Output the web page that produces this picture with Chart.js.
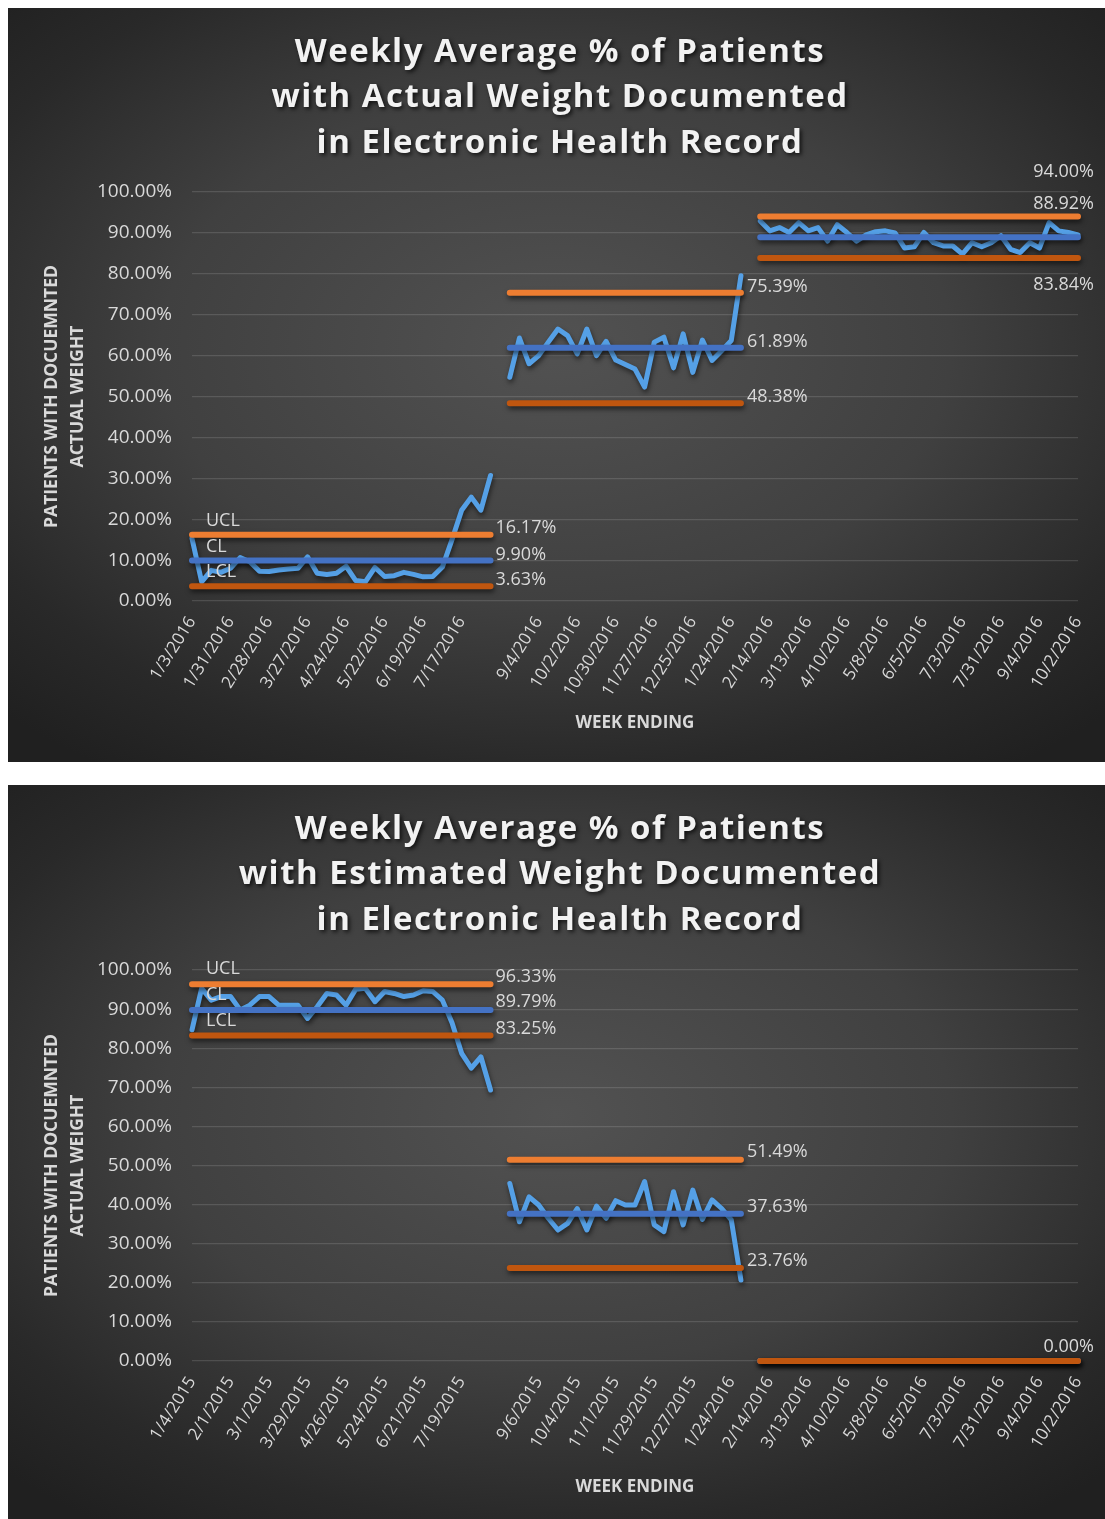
<!DOCTYPE html>
<html><head><meta charset="utf-8">
<script src="https://cdn.jsdelivr.net/npm/chart.js@4.4.1/dist/chart.umd.min.js"></script>
<style>
html,body{margin:0;padding:0;background:#fff;}
.panel{position:absolute;left:8px;width:1097px;background:radial-gradient(ellipse 72% 68% at 50% 45%, #525252 0%, #404040 50%, #292929 82%, #202020 100%);}
#p1{top:8px;height:754px;}
#p2{top:785px;height:734px;}
canvas{display:block;}
</style></head><body>
<div class="panel" id="p1"><canvas id="c1" width="1097" height="754"></canvas></div>
<div class="panel" id="p2"><canvas id="c2" width="1097" height="734"></canvas></div>
<script>
// ---- data ----
const segStart = [0, 33, 59];
const segLen = [32, 25, 34];
const nCats = 93;

const actualTickLabels = ['1/3/2016','1/31/2016','2/28/2016','3/27/2016','4/24/2016','5/22/2016','6/19/2016','7/17/2016','','9/4/2016','10/2/2016','10/30/2016','11/27/2016','12/25/2016','1/24/2016','2/14/2016','3/13/2016','4/10/2016','5/8/2016','6/5/2016','7/3/2016','7/31/2016','9/4/2016','10/2/2016'];
const estTickLabels = ['1/4/2015','2/1/2015','3/1/2015','3/29/2015','4/26/2015','5/24/2015','6/21/2015','7/19/2015','','9/6/2015','10/4/2015','11/1/2015','11/29/2015','12/27/2015','1/24/2016','2/14/2016','3/13/2016','4/10/2016','5/8/2016','6/5/2016','7/3/2016','7/31/2016','9/4/2016','10/2/2016'];

const actualSeg1 = [15.3,4.7,7.5,7.0,8.0,10.6,9.6,7.3,7.2,7.6,7.8,8.0,10.8,6.8,6.5,6.8,8.5,5.0,4.7,8.2,6.0,6.2,7.0,6.5,5.9,6.0,8.3,15.0,22.2,25.4,22.2,30.7];
const actualSeg2 = [54.7,64.3,58.0,60.0,63.3,66.5,64.9,60.4,66.5,60.0,63.5,58.9,57.8,56.7,52.3,63.3,64.5,57.0,65.3,55.9,63.8,58.8,61.2,63.7,79.5];
const actualSeg3 = [92.9,90.5,91.3,90.1,92.5,90.5,91.3,88.0,92.0,90.1,88.0,89.5,90.3,90.5,90.0,86.3,86.6,90.1,87.6,86.8,86.8,84.8,87.6,86.6,87.6,89.3,86.0,85.2,87.6,86.3,92.5,90.5,90.1,89.5];
const actualUCL = [16.17, 75.39, 94.00];
const actualCL  = [9.90, 61.89, 88.92];
const actualLCL = [3.63, 48.38, 83.84];

const estSeg1 = [84.7,95.3,92.3,93.2,93.2,89.8,91.0,93.2,93.2,91.0,91.0,91.0,87.6,90.6,94.0,93.6,91.0,95.1,95.3,91.9,94.5,94.0,93.2,93.6,94.7,94.5,92.3,86.5,78.7,74.9,77.8,69.3];
const estSeg2 = [45.4,35.6,42.0,39.9,36.5,33.5,35.2,39.0,33.5,39.6,36.5,41.0,39.9,39.9,45.9,34.8,33.1,43.3,34.8,43.7,36.2,41.2,39.0,36.1,20.7];
const estSeg3 = [];
const estUCL = [96.33, 51.49, 0.00];
const estCL  = [89.79, 37.63, 0.00];
const estLCL = [83.25, 23.76, 0.00];

// ---- helpers ----
function buildLabels(ticks){
  const out = [];
  for (let i = 0; i < nCats; i++) out.push(i % 4 === 0 ? (ticks[i/4] || '') : '');
  return out;
}
function buildSeries(segs){
  const out = new Array(nCats).fill(null);
  segs.forEach((vals, s) => vals.forEach((v, k) => { out[segStart[s] + k] = v; }));
  return out;
}
function buildLimit(lims){
  const out = new Array(nCats).fill(null);
  lims.forEach((v, s) => { for (let k = 0; k < segLen[s]; k++) out[segStart[s] + k] = v; });
  return out;
}

const TXT = '#d9d9d9';
const FONT = 'Open Sans';

const titlePlugin = {
  id: 'bigTitle',
  afterDraw(chart, args, opts){
    const ctx = chart.ctx;
    ctx.save();
    ctx.font = 'bold 33px "Open Sans"';
    try { ctx.letterSpacing = '1.5px'; } catch(e) {}
    ctx.fillStyle = '#f2f2f2';
    ctx.textAlign = 'center';
    ctx.textBaseline = 'middle';
    ctx.shadowColor = 'rgba(0,0,0,0.75)';
    ctx.shadowBlur = 4;
    ctx.shadowOffsetX = 2;
    ctx.shadowOffsetY = 2;
    opts.lines.forEach((t, i) => ctx.fillText(t, opts.cx, opts.y0 + i * opts.lh));
    ctx.restore();
  }
};

const shadowPlugin = {
  id: 'lineShadow',
  beforeDatasetDraw(chart){
    const ctx = chart.ctx;
    ctx.save();
    ctx.shadowColor = 'rgba(0,0,0,0.55)';
    ctx.shadowBlur = 5;
    ctx.shadowOffsetX = 1;
    ctx.shadowOffsetY = 3;
  },
  afterDatasetDraw(chart){ chart.ctx.restore(); }
};

const labelPlugin = {
  id: 'ctlLabels',
  afterDatasetsDraw(chart, args, opts){
    const ctx = chart.ctx;
    const xs = chart.scales.x, ys = chart.scales.y;
    ctx.save();
    ctx.font = '18px "Open Sans"';
    ctx.fillStyle = TXT;
    ctx.textBaseline = 'middle';
    opts.items.forEach(it => {
      const ds = chart.data.datasets[it.d];
      const v = ds.data[it.i];
      const x = xs.getPixelForValue(it.i) + it.dx;
      const y = ys.getPixelForValue(v) + it.dy;
      ctx.textAlign = it.a || 'left';
      const text = it.t || (v.toFixed(2) + '%');
      ctx.fillText(text, x, y);
    });
    ctx.restore();
  }
};

function makeChart(id, tickLabels, dataSegs, ucl, cl, lcl, cfg){
  const labels = buildLabels(tickLabels);
  const lineBase = {pointRadius:0, pointHoverRadius:0, tension:0, spanGaps:false, clip:false, borderCapStyle:'round', borderJoinStyle:'round', fill:false};
  return new Chart(document.getElementById(id), {
    type: 'line',
    data: {
      labels,
      datasets: [
        Object.assign({label:'Data', data: buildSeries(dataSegs), borderColor:'#55a0e6', borderWidth:5, order:4}, lineBase),
        Object.assign({label:'UCL', data: buildLimit(ucl), borderColor:'#ED7D31', borderWidth:6, order:3}, lineBase),
        Object.assign({label:'CL', data: buildLimit(cl), borderColor:'#4472C4', borderWidth:6, order:2}, lineBase),
        Object.assign({label:'LCL', data: buildLimit(lcl), borderColor:'#C0560F', borderWidth:6, order:1}, lineBase)
      ]
    },
    options: {
      responsive: false,
      animation: false,
      layout: {padding: {top: cfg.top, right: 27, left: 0, bottom: 0}},
      plugins: {
        legend: {display:false},
        tooltip: {enabled:false},
        bigTitle: {lines: cfg.title, cx: 552, y0: 44.5, lh: 45.5},
        ctlLabels: {items: cfg.labels}
      },
      scales: {
        x: {
          type: 'category',
          offset: false,
          grid: {display:false},
          border: {display:false},
          ticks: {autoSkip:false, minRotation:58, maxRotation:58, color:TXT, font:{family:FONT, size:17}, padding:4},
          title: {display:true, text:'WEEK ENDING', color:TXT, font:{family:FONT, size:17, weight:'bold'}, padding:{top:0, bottom:cfg.xtb}},
          afterFit(s){ s.height = cfg.xh; }
        },
        y: {
          min: 0, max: 100,
          grid: {color:'rgba(255,255,255,0.13)', lineWidth:1.2, drawTicks:false},
          border: {display:false},
          ticks: {stepSize:10, color:TXT, font:{family:FONT, size:19}, padding:20, callback: v => v.toFixed(2) + '%'},
          title: {display:true, text:['PATIENTS WITH DOCUEMNTED','ACTUAL WEIGHT'], color:TXT, font:{family:FONT, size:17.5, weight:'bold', lineHeight:1.5}, padding:{top:31, bottom:0}},
          afterFit(s){ s.width = 184; }
        }
      }
    },
    plugins: [titlePlugin, shadowPlugin, labelPlugin]
  });
}

makeChart('c1', actualTickLabels, [actualSeg1, actualSeg2, actualSeg3], actualUCL, actualCL, actualLCL, {
  top: 184, xh: 161, xtb: 29,
  title: ['Weekly Average % of Patients', 'with Actual Weight Documented', 'in Electronic Health Record'],
  labels: [
    {d:1,i:0,t:'UCL',dx:14,dy:-14},{d:2,i:0,t:'CL',dx:14,dy:-14},{d:3,i:0,t:'LCL',dx:14,dy:-14},
    {d:1,i:31,dx:5,dy:-7},{d:2,i:31,dx:5,dy:-6},{d:3,i:31,dx:5,dy:-6},
    {d:1,i:57,dx:6,dy:-6},{d:2,i:57,dx:6,dy:-6},{d:3,i:57,dx:6,dy:-6},
    {d:1,i:92,dx:16,dy:-45,a:'right'},{d:2,i:92,dx:16,dy:-33,a:'right'},{d:3,i:92,dx:16,dy:27,a:'right'}
  ]
});

makeChart('c2', estTickLabels, [estSeg1, estSeg2, estSeg3], estUCL, estCL, estLCL, {
  top: 185, xh: 158, xtb: 22,
  title: ['Weekly Average % of Patients', 'with Estimated Weight Documented', 'in Electronic Health Record'],
  labels: [
    {d:1,i:0,t:'UCL',dx:14,dy:-15},{d:2,i:0,t:'CL',dx:14,dy:-15},{d:3,i:0,t:'LCL',dx:14,dy:-15},
    {d:1,i:31,dx:5,dy:-7},{d:2,i:31,dx:5,dy:-8},{d:3,i:31,dx:5,dy:-7},
    {d:1,i:57,dx:6,dy:-8},{d:2,i:57,dx:6,dy:-7},{d:3,i:57,dx:6,dy:-7},
    {d:3,i:92,dx:16,dy:-14,a:'right'}
  ]
});
</script>
</body></html>
